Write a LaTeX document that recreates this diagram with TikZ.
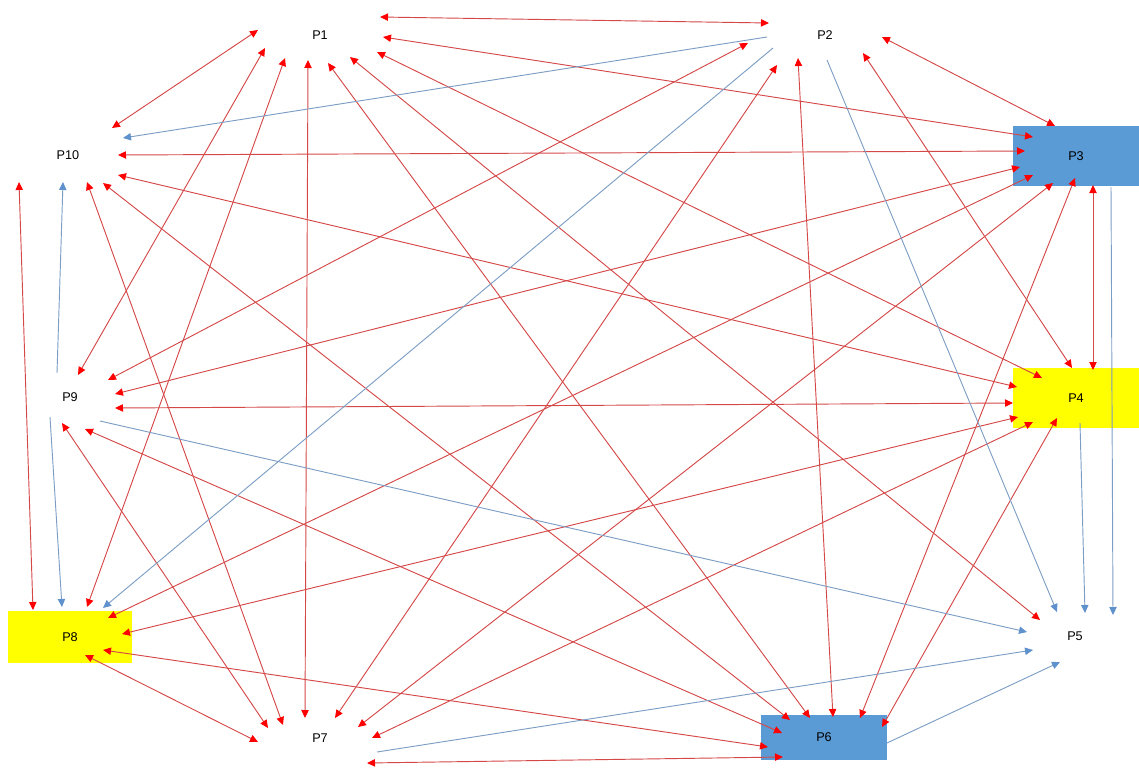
\documentclass[tikz,border=0pt]{standalone}
\usepackage{fontspec}
\setmainfont{Liberation Sans}
\usetikzlibrary{calc,arrows.meta}
\definecolor{redline}{RGB}{212,72,72}
\definecolor{redhead}{RGB}{255,0,0}
\definecolor{blueline}{RGB}{125,158,196}
\definecolor{bluehead}{RGB}{95,145,205}
\definecolor{boxblue}{RGB}{91,155,213}
\definecolor{boxyellow}{RGB}{255,255,0}
\begin{document}
\begin{tikzpicture}[x=0.75pt,y=-0.75pt,
  lbl/.style={font=\fontsize{9.5}{11}\selectfont, inner sep=0pt},
  bluebox/.style={lbl, fill=boxblue},
  yellowbox/.style={lbl, fill=boxyellow},
  rr/.style={draw=redline, line width=0.7pt,
    {Triangle[length=6pt,width=5.5pt,color=redhead]}-{Triangle[length=6pt,width=5.5pt,color=redhead]}},
  bb/.style={draw=blueline, line width=0.7pt,
    -{Triangle[length=6pt,width=5.5pt,color=bluehead]}}
]
\useasboundingbox (0,0) rectangle (1139,768);
% nodes
\node[lbl] (P1) at (320,35) {P1};
\node[lbl] (P2) at (825,35) {P2};
\node[bluebox, minimum width=94.5pt, minimum height=45pt] (P3) at (1076,156) {P3};
\node[yellowbox, minimum width=94.5pt, minimum height=45pt] (P4) at (1076,398) {P4};
\node[lbl] (P5) at (1075,636) {P5};
\node[bluebox, minimum width=94.5pt, minimum height=33.75pt] (P6) at (824,737.5) {P6};
\node[lbl] (P7) at (320,738) {P7};
\node[yellowbox, minimum width=93pt, minimum height=39pt] (P8) at (70,637) {P8};
\node[lbl] (P9) at (70,397) {P9};
\node[lbl] (P10) at (68,155) {P10};
% red double-headed connectors
\draw[rr] ($(P1)+(60,-18)$) -- ($(P2)+(-56,-12)$);
\draw[rr] ($(P1)+(63,2)$) -- ($(P3)+(-43,-19)$);
\draw[rr] ($(P1)+(57,17)$) -- ($(P4)+(-34,-20)$);
\draw[rr] ($(P1)+(30,22)$) -- ($(P5)+(-35,-16)$);
\draw[rr] ($(P1)+(8,28)$) -- ($(P6)+(-14,-19.5)$);
\draw[rr] ($(P1)+(-12,25)$) -- ($(P7)+(-15,-20)$);
\draw[rr] ($(P1)+(-35,23)$) -- ($(P8)+(17,-30)$);
\draw[rr] ($(P1)+(-55,13)$) -- ($(P9)+(8,-22)$);
\draw[rr] ($(P1)+(-62,-5)$) -- ($(P10)+(44,-27)$);
\draw[rr] ($(P2)+(57,2)$) -- ($(P3)+(-21,-30)$);
\draw[rr] ($(P2)+(38,18)$) -- ($(P4)+(-4,-30)$);
\draw[rr] ($(P2)+(-27,23)$) -- ($(P6)+(9,-20.5)$);
\draw[rr] ($(P2)+(-48,30)$) -- ($(P7)+(15,-20)$);
\draw[rr] ($(P2)+(-77,8)$) -- ($(P9)+(38,-17)$);
\draw[rr] ($(P3)+(17,29)$) -- ($(P4)+(17,-28)$);
\draw[rr] ($(P3)+(-1,22)$) -- ($(P6)+(36,-19.5)$);
\draw[rr] ($(P3)+(-23,27)$) -- ($(P7)+(38,-11)$);
\draw[rr] ($(P3)+(-43,19)$) -- ($(P8)+(38,-19)$);
\draw[rr] ($(P3)+(-56,11)$) -- ($(P9)+(45,-3)$);
\draw[rr] ($(P3)+(-51,-5)$) -- ($(P10)+(50,0)$);
\draw[rr] ($(P4)+(-19,20)$) -- ($(P6)+(58,-10.5)$);
\draw[rr] ($(P4)+(-43,24)$) -- ($(P7)+(52,0)$);
\draw[rr] ($(P4)+(-58,19)$) -- ($(P8)+(52,-3)$);
\draw[rr] ($(P4)+(-63,5)$) -- ($(P9)+(45,11)$);
\draw[rr] ($(P4)+(-59,-11)$) -- ($(P10)+(50,20)$);
\draw[rr] ($(P6)+(-41,19.5)$) -- ($(P7)+(47,25)$);
\draw[rr] ($(P6)+(-56,9.5)$) -- ($(P8)+(33,13)$);
\draw[rr] ($(P6)+(-42,-4.5)$) -- ($(P9)+(15,32)$);
\draw[rr] ($(P6)+(-34,-17.5)$) -- ($(P10)+(35,28)$);
\draw[rr] ($(P7)+(-62,4)$) -- ($(P8)+(15,18)$);
\draw[rr] ($(P7)+(-52,-10)$) -- ($(P9)+(-8,26)$);
\draw[rr] ($(P7)+(-37,-13)$) -- ($(P10)+(19,27)$);
\draw[rr] ($(P8)+(-37,-27)$) -- ($(P10)+(-49,27)$);
% blue one-way connectors
\draw[bb] ($(P2)+(-58,2)$) -- ($(P10)+(55,-17)$);
\draw[bb] ($(P2)+(-52,13)$) -- ($(P8)+(33,-29)$);
\draw[bb] ($(P2)+(2,25)$) -- ($(P5)+(-18,-24)$);
\draw[bb] ($(P3)+(35,31)$) -- ($(P5)+(38,-21)$);
\draw[bb] ($(P4)+(4,25)$) -- ($(P5)+(10,-23)$);
\draw[bb] ($(P6)+(63,5.5)$) -- ($(P5)+(-15,26)$);
\draw[bb] ($(P7)+(57,14)$) -- ($(P5)+(-42,14)$);
\draw[bb] ($(P9)+(30,24)$) -- ($(P5)+(-48,-4)$);
\draw[bb] ($(P9)+(-20,20)$) -- ($(P8)+(-8,-30)$);
\draw[bb] ($(P9)+(-13,-24)$) -- ($(P10)+(-5,27)$);
\end{tikzpicture}
\end{document}
